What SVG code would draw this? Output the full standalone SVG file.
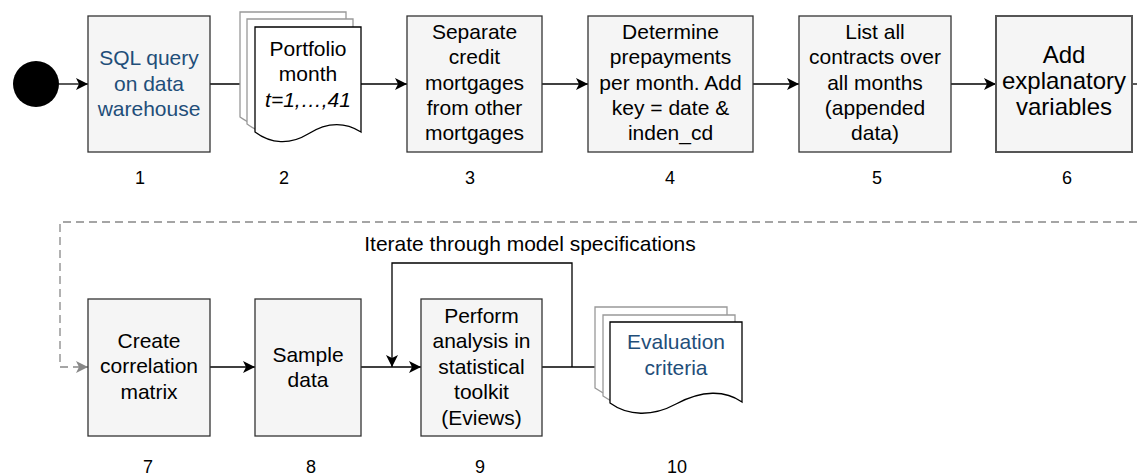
<svg xmlns="http://www.w3.org/2000/svg" width="1137" height="475" viewBox="0 0 1137 475">
<style>
text{font-family:"Liberation Sans",Arial,sans-serif;font-size:21px;fill:#000;text-anchor:middle}
.blue{fill:#1f4e79}
.num{font-size:18px}
.big{font-size:24px}
.box{fill:#f5f5f5;stroke:#333;stroke-width:1.3}
.box6{fill:#f5f5f5;stroke:#555;stroke-width:2}
.page{fill:#fff;stroke:#999;stroke-width:1.3}
.front{fill:#fff;stroke:#000;stroke-width:1.3}
.c{fill:none;stroke:#000;stroke-width:1.3}
.d{fill:none;stroke:#888;stroke-width:1.3;stroke-dasharray:8,5}
</style>
<defs>
<marker id="a" markerUnits="userSpaceOnUse" markerWidth="14" markerHeight="14" refX="12" refY="6" orient="auto"><path d="M0,0 L12,6 L0,12 L3,6 Z" fill="#000"/></marker>
<marker id="g" markerUnits="userSpaceOnUse" markerWidth="14" markerHeight="14" refX="12" refY="6" orient="auto"><path d="M0,0 L12,6 L0,12 L3,6 Z" fill="#888"/></marker>
<path id="doc2" d="M0,0 H106 V105 C90,95 72,95 53,107 C35,118 16,117 0,105 Z"/>
<path id="doc10" d="M0,0 H132 V80 C115,68 92,68 66,82 C42,95 18,94 0,81 Z"/>
</defs>
<g id="connectors">
<line class="c" x1="59" y1="84" x2="88" y2="84" marker-end="url(#a)"/>
<line class="c" x1="210" y1="84" x2="255" y2="84" marker-end="url(#a)"/>
<line class="c" x1="361" y1="84" x2="407" y2="84" marker-end="url(#a)"/>
<line class="c" x1="542" y1="84" x2="588" y2="84" marker-end="url(#a)"/>
<line class="c" x1="753" y1="84" x2="799" y2="84" marker-end="url(#a)"/>
<line class="c" x1="951" y1="84" x2="996" y2="84" marker-end="url(#a)"/>
<line class="c" x1="1132" y1="84" x2="1137" y2="84"/>
<path class="d" d="M1137,222 H60 V367 H88" marker-end="url(#g)"/>
<line class="c" x1="210" y1="367" x2="255" y2="367" marker-end="url(#a)"/>
<line class="c" x1="361" y1="367" x2="421" y2="367" marker-end="url(#a)"/>
<line class="c" x1="542" y1="367" x2="610" y2="367" marker-end="url(#a)"/>
<path class="c" d="M572,367 V263 H392 V367" marker-end="url(#a)"/>
<text x="530" y="251">Iterate through model specifications</text>
</g>
<g id="start"><circle cx="36" cy="84" r="23" fill="#000"/></g>
<g id="n1">
<rect class="box" x="88" y="16" width="122" height="136"/>
<text class="blue" x="149" y="65">SQL query</text>
<text class="blue" x="149" y="91">on data</text>
<text class="blue" x="149" y="116">warehouse</text>
<text class="num" x="140" y="184">1</text>
</g>
<g id="n2">
<use href="#doc2" class="page" x="240" y="12"/>
<use href="#doc2" class="page" x="247" y="19"/>
<use href="#doc2" class="front" x="255" y="27"/>
<text x="308" y="56">Portfolio</text>
<text x="308" y="81">month</text>
<text x="308" y="107" font-style="italic">t=1,…,41</text>
<text class="num" x="284" y="184">2</text>
</g>
<g id="n3">
<rect class="box" x="407" y="16" width="135" height="136"/>
<text x="474.5" y="39">Separate</text>
<text x="474.5" y="64">credit</text>
<text x="474.5" y="90">mortgages</text>
<text x="474.5" y="115">from other</text>
<text x="474.5" y="140">mortgages</text>
<text class="num" x="470" y="184">3</text>
</g>
<g id="n4">
<rect class="box" x="588" y="16" width="165" height="136"/>
<text x="670.5" y="39">Determine</text>
<text x="670.5" y="64">prepayments</text>
<text x="670.5" y="90">per month. Add</text>
<text x="670.5" y="115">key = date &amp;</text>
<text x="670.5" y="140">inden_cd</text>
<text class="num" x="670" y="184">4</text>
</g>
<g id="n5">
<rect class="box" x="799" y="16" width="152" height="136"/>
<text x="875" y="39">List all</text>
<text x="875" y="64">contracts over</text>
<text x="875" y="90">all months</text>
<text x="875" y="115">(appended</text>
<text x="875" y="140">data)</text>
<text class="num" x="877" y="184">5</text>
</g>
<g id="n6">
<rect class="box6" x="996" y="16" width="136" height="136"/>
<text class="big" x="1064" y="63">Add</text>
<text class="big" x="1064" y="89">explanatory</text>
<text class="big" x="1064" y="115">variables</text>
<text class="num" x="1067" y="184">6</text>
</g>
<g id="n7">
<rect class="box" x="88" y="299" width="122" height="137"/>
<text x="149" y="348">Create</text>
<text x="149" y="373">correlation</text>
<text x="149" y="399">matrix</text>
<text class="num" x="148" y="473">7</text>
</g>
<g id="n8">
<rect class="box" x="255" y="299" width="106" height="137"/>
<text x="308" y="362">Sample</text>
<text x="308" y="387">data</text>
<text class="num" x="311" y="473">8</text>
</g>
<g id="n9">
<rect class="box" x="421" y="299" width="121" height="137"/>
<text x="481.5" y="323">Perform</text>
<text x="481.5" y="348">analysis in</text>
<text x="481.5" y="374">statistical</text>
<text x="481.5" y="399">toolkit</text>
<text x="481.5" y="425">(Eviews)</text>
<text class="num" x="480" y="473">9</text>
</g>
<g id="n10">
<use href="#doc10" class="page" x="595" y="307"/>
<use href="#doc10" class="page" x="603" y="315"/>
<use href="#doc10" class="front" x="610" y="322"/>
<text class="blue" x="676" y="349">Evaluation</text>
<text class="blue" x="676" y="375">criteria</text>
<text class="num" x="677" y="473">10</text>
</g>
</svg>
